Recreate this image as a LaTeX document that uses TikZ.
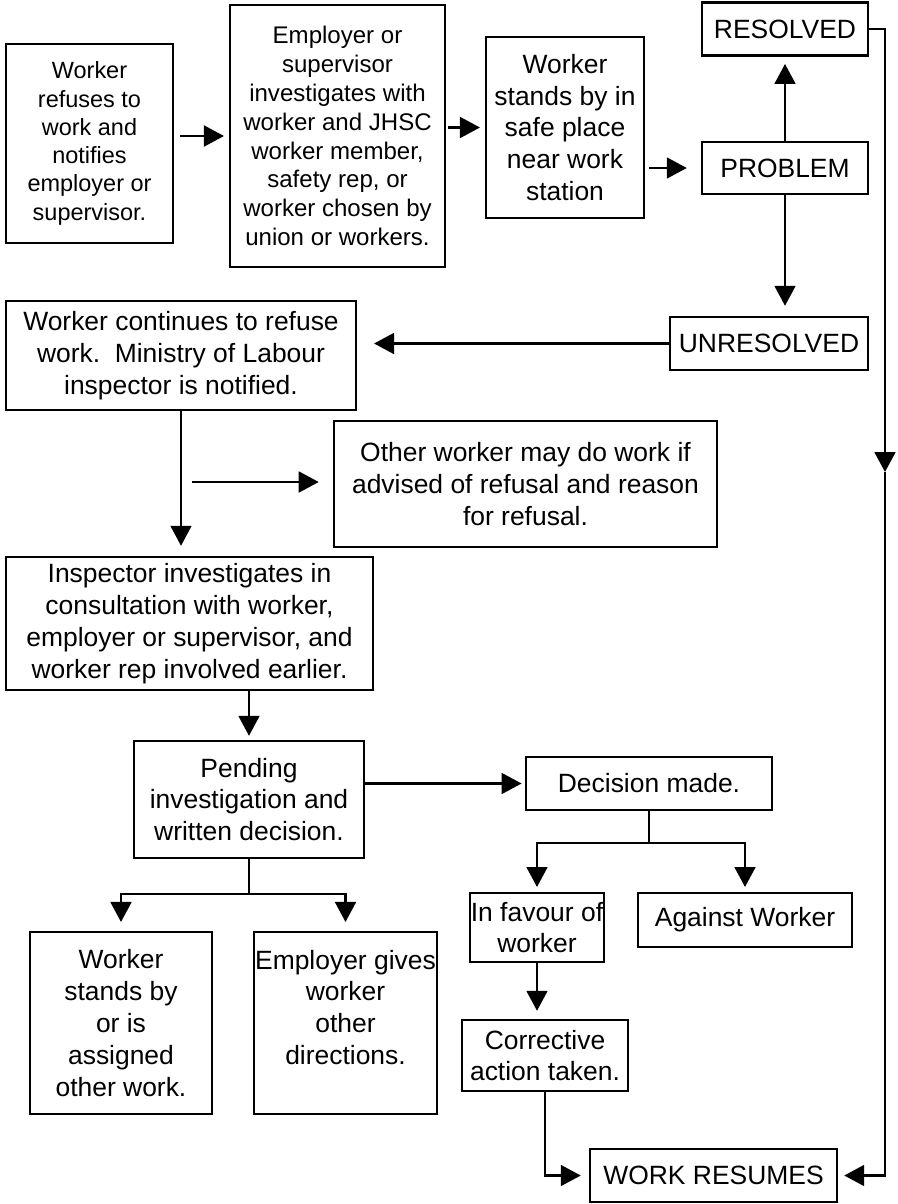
\documentclass[tikz,border=0pt]{standalone}
\usepackage{fontspec}
\setmainfont{Liberation Sans}
\usepackage{tikz}
\usetikzlibrary{arrows.meta, positioning}
\newcommand{\flowfont}{\fontsize{18.8pt}{22.6pt}\selectfont}
\newcommand{\smallflowfont}{\fontsize{16.7pt}{20.1pt}\selectfont}
\newcommand{\midflowfont}{\fontsize{17.1pt}{20.5pt}\selectfont}
\tikzset{
  box/.style={rectangle, draw=black, fill=white, align=center,
    inner sep=0pt, font=\flowfont, line width=1.7pt},
  arrow/.style={-{Triangle[length=0.5cm, width=0.52cm]}, line width=1.7pt,
    shorten >=0.12cm},
  line/.style={line width=1.7pt}
}

\begin{document}
\begin{tikzpicture}[x=0.025cm, y=-0.025cm]
  \useasboundingbox (0,0) rectangle (897,1204);

  % top row
  \node[box, font=\smallflowfont, minimum width=4.175cm, minimum height=4.975cm] (refuse) at (89.5,143.5)
    {Worker\\refuses to\\work and\\notifies\\employer or\\supervisor.};
  \node[box, font=\midflowfont, minimum width=5.375cm, minimum height=6.55cm] (invest) at (337.5,136)
    {Employer or\\supervisor\\investigates with\\worker and JHSC\\worker member,\\safety rep, or\\worker chosen by\\union or workers.};
  \node[box, minimum width=3.95cm, minimum height=4.525cm] (standby) at (565,127.5)
    {Worker\\stands by in\\safe place\\near work\\station};
  \node[box, minimum width=4.15cm, minimum height=1.3cm] (problem) at (785,168) {PROBLEM};
  \node[box, minimum width=4.15cm, minimum height=1.325cm, above=2.1cm of problem] (resolved) {RESOLVED};
  \node[box, minimum width=4.95cm, minimum height=1.325cm] (unresolved) at (769,343.5) {UNRESOLVED};

  \draw[arrow, shorten <=0.15cm] (refuse.east |- invest) -- (invest);
  \draw[arrow, shorten <=0.05cm] (invest.east |- standby) -- (standby);
  \draw[arrow, shorten <=0.1cm, shorten >=0.35cm] (standby.east |- problem) -- (problem);
  \draw[arrow, shorten >=0.18cm] (problem) -- (resolved);
  \draw[arrow, shorten >=0.25cm] (problem) -- (problem |- unresolved.north);

  % middle
  \node[box, minimum width=8.75cm, minimum height=2.725cm] (continue) at (181,355.5)
    {Worker continues to refuse\\work.\ \ Ministry of Labour\\inspector is notified.};
  \node[box, minimum width=9.575cm, minimum height=3.15cm] (other) at (525.5,484)
    {Other worker may do work if\\advised of refusal and reason\\for refusal.};
  \node[box, minimum width=9.175cm, minimum height=3.325cm] (inspect) at (189.5,623.5)
    {Inspector investigates in\\consultation with worker,\\employer or supervisor, and\\worker rep involved earlier.};
  \coordinate (aside) at (192,482);

  \draw[arrow, shorten >=0.42cm] (unresolved.west) -- (unresolved.west -| continue.east);
  \draw[arrow, shorten >=0.25cm] (continue) -- (continue |- inspect.north);
  \draw[arrow, shorten >=0.35cm] (aside) -- (aside -| other.west);

  % lower part
  \node[box, minimum width=5.75cm, minimum height=2.925cm] (pending) at (249,799.5)
    {Pending\\investigation and\\written decision.};
  \node[box, minimum width=6.15cm, minimum height=1.325cm] (decision) at (649,783.5) {Decision made.};
  \node[box, minimum width=4.55cm, minimum height=4.55cm] (standsby) at (121,1023)
    {Worker\\stands by\\or is\\assigned\\other work.};
  \node[box, minimum width=4.575cm, minimum height=4.55cm] (directions) at (345.5,1023)
    {Employer gives\\worker\\other\\directions.\\ \mbox{}};
  \node[box, minimum width=3.35cm, minimum height=1.725cm] (favour) at (537,927.5)
    {In favour of\\worker};
  \node[box, minimum width=5.35cm, minimum height=1.35cm] (against) at (745,920) {Against Worker};
  \node[box, minimum width=4.15cm, minimum height=1.775cm] (correct) at (545,1055.5)
    {Corrective\\action taken.};
  \node[box, minimum width=6.175cm, minimum height=1.325cm] (resumes) at (713.5,1175.5) {WORK RESUMES};

  \draw[arrow, shorten >=0.1cm] (inspect.south -| pending) -- (pending);
  \draw[arrow, shorten >=0.08cm] (pending.east |- decision) -- (decision);
  \draw[line] (pending.south) -- ++(0,35) coordinate (pendsplit);
  \draw[arrow, shorten >=0.22cm] (pendsplit) -| (standsby);
  \draw[arrow, shorten >=0.22cm] (pendsplit) -| (directions);
  \draw[line] (decision.south) -- ++(0,32) coordinate (decsplit);
  \draw[arrow] (decsplit) -| (favour);
  \draw[arrow] (decsplit) -| (against);
  \draw[arrow, shorten >=0.2cm] (favour) -- (favour |- correct.north);
  \draw[arrow, shorten >=0.2cm] (correct.south) |- (resumes);

  % loop back on the right
  \coordinate (rail) at (885,472);
  \draw[arrow, shorten >=0pt] (resolved.east) -| (rail);
  \draw[arrow, shorten >=0.15cm] (rail) |- (resumes);
\end{tikzpicture}
\end{document}
